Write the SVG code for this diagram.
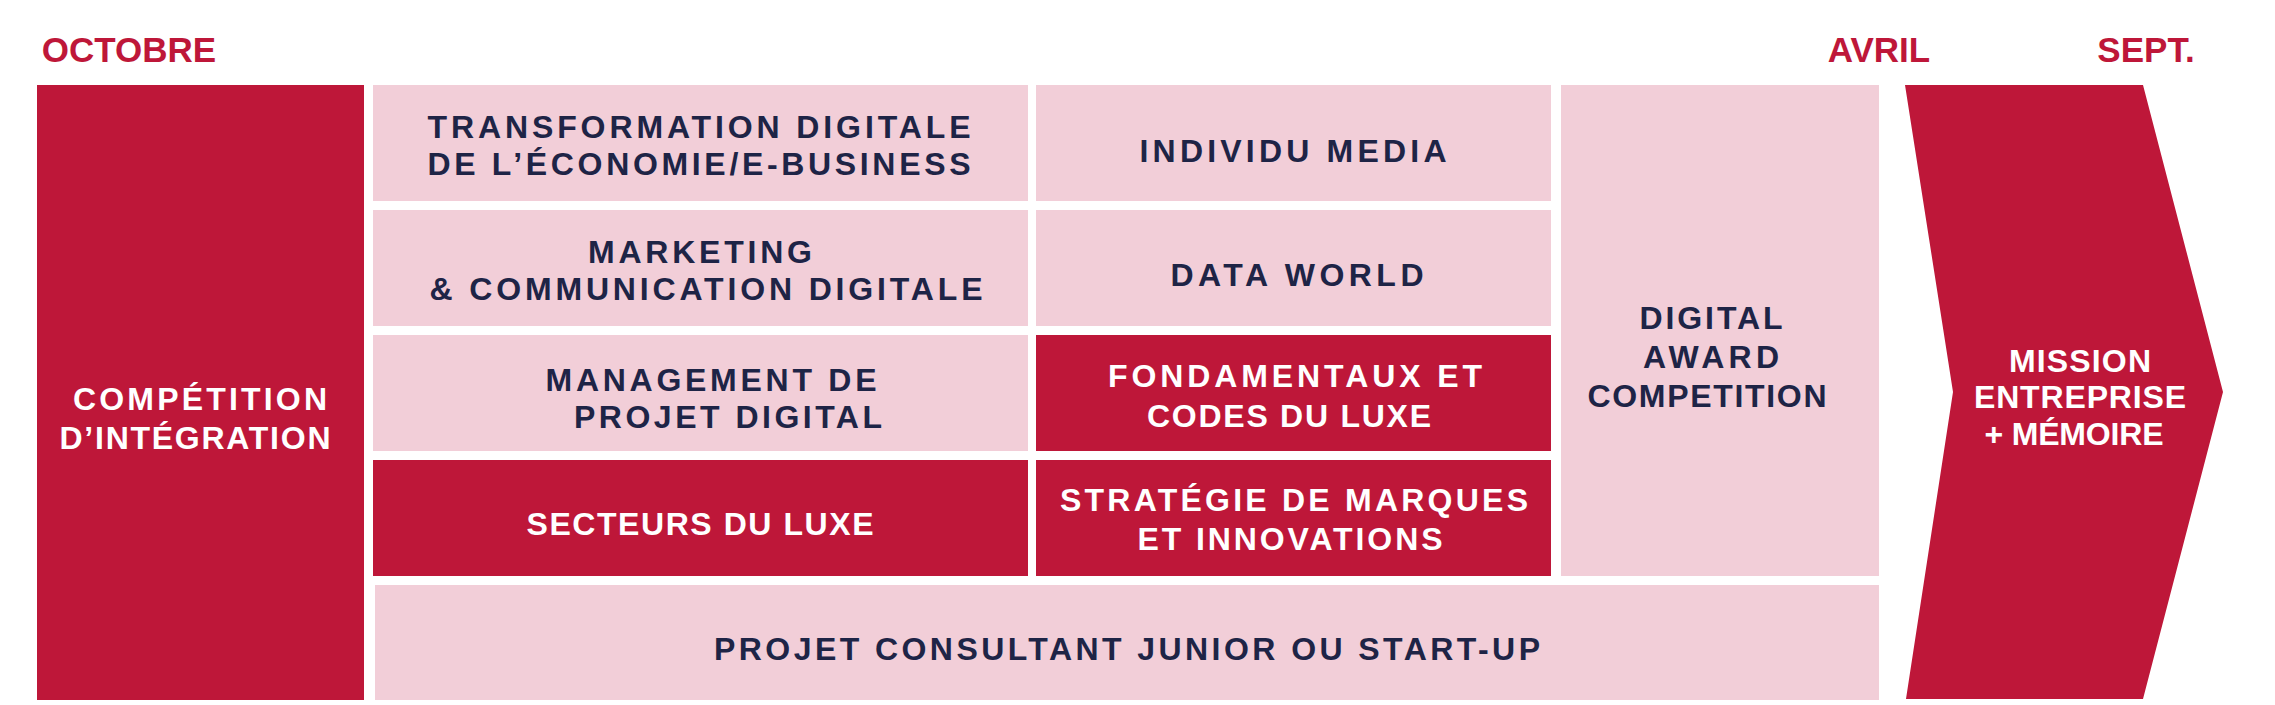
<svg xmlns="http://www.w3.org/2000/svg" width="2275" height="705" viewBox="0 0 2275 705">
<style>
.red{fill:#BE1739}
.pink{fill:#F2CED8}
text{font-family:"Liberation Sans",Arial,sans-serif;font-weight:bold;text-anchor:middle}
.t{font-size:32px;fill:#1E2446}
.w{font-size:32px;fill:#FFFFFF}
.m{font-size:35px;fill:#BE1739}
</style>
<rect width="2275" height="705" fill="#FFFFFF"/>
<g id="months">
<text class="m" x="129" y="62">OCTOBRE</text>
<text class="m" x="1879" y="62">AVRIL</text>
<text class="m" x="2146" y="62">SEPT.</text>
</g>
<g id="competition-integration">
<rect class="red" x="37" y="85" width="327" height="615"/>
<text class="w" x="200" y="410" textLength="254" lengthAdjust="spacing">COMPÉTITION</text>
<text class="w" x="195" y="449" textLength="271" lengthAdjust="spacing">D’INTÉGRATION</text>
</g>
<g id="transformation-digitale">
<rect class="pink" x="373" y="85" width="655" height="116"/>
<text class="t" x="699" y="138" textLength="543" lengthAdjust="spacing">TRANSFORMATION DIGITALE</text>
<text class="t" x="699" y="175" textLength="543" lengthAdjust="spacing">DE L’ÉCONOMIE/E-BUSINESS</text>
</g>
<g id="marketing">
<rect class="pink" x="373" y="210" width="655" height="116"/>
<text class="t" x="700" y="263" textLength="224" lengthAdjust="spacing">MARKETING</text>
<text class="t" x="706" y="300" textLength="553" lengthAdjust="spacing">&amp; COMMUNICATION DIGITALE</text>
</g>
<g id="management">
<rect class="pink" x="373" y="335" width="655" height="116"/>
<text class="t" x="711" y="391" textLength="331" lengthAdjust="spacing">MANAGEMENT DE</text>
<text class="t" x="728" y="428" textLength="308" lengthAdjust="spacing">PROJET DIGITAL</text>
</g>
<g id="secteurs-luxe">
<rect class="red" x="373" y="460" width="655" height="116"/>
<text class="w" x="700" y="535" textLength="347" lengthAdjust="spacing">SECTEURS DU LUXE</text>
</g>
<g id="individu-media">
<rect class="pink" x="1036" y="85" width="515" height="116"/>
<text class="t" x="1293" y="162" textLength="307" lengthAdjust="spacing">INDIVIDU MEDIA</text>
</g>
<g id="data-world">
<rect class="pink" x="1036" y="210" width="515" height="116"/>
<text class="t" x="1297" y="286" textLength="253" lengthAdjust="spacing">DATA WORLD</text>
</g>
<g id="fondamentaux">
<rect class="red" x="1036" y="335" width="515" height="116"/>
<text class="w" x="1295" y="387" textLength="374" lengthAdjust="spacing">FONDAMENTAUX ET</text>
<text class="w" x="1289" y="427" textLength="284" lengthAdjust="spacing">CODES DU LUXE</text>
</g>
<g id="strategie">
<rect class="red" x="1036" y="460" width="515" height="116"/>
<text class="w" x="1294" y="511" textLength="468" lengthAdjust="spacing">STRATÉGIE DE MARQUES</text>
<text class="w" x="1290" y="550" textLength="305" lengthAdjust="spacing">ET INNOVATIONS</text>
</g>
<g id="digital-award">
<rect class="pink" x="1561" y="85" width="318" height="491"/>
<text class="t" x="1711" y="329" textLength="143" lengthAdjust="spacing">DIGITAL</text>
<text class="t" x="1711" y="368" textLength="136" lengthAdjust="spacing">AWARD</text>
<text class="t" x="1707" y="407" textLength="239" lengthAdjust="spacing">COMPETITION</text>
</g>
<g id="projet-consultant">
<rect class="pink" x="375" y="585" width="1504" height="115"/>
<text class="t" x="1127" y="660" textLength="826" lengthAdjust="spacing">PROJET CONSULTANT JUNIOR OU START-UP</text>
</g>
<g id="mission">
<polygon class="red" points="1905,85 2143,85 2223,392 2143,699 1906,699 1953,392"/>
<text class="w" x="2080" y="372" textLength="142" lengthAdjust="spacing">MISSION</text>
<text class="w" x="2080" y="408" textLength="212" lengthAdjust="spacing">ENTREPRISE</text>
<text class="w" x="2074" y="445" textLength="179" lengthAdjust="spacing">+ MÉMOIRE</text>
</g>
<g id="connectors"></g>
</svg>
